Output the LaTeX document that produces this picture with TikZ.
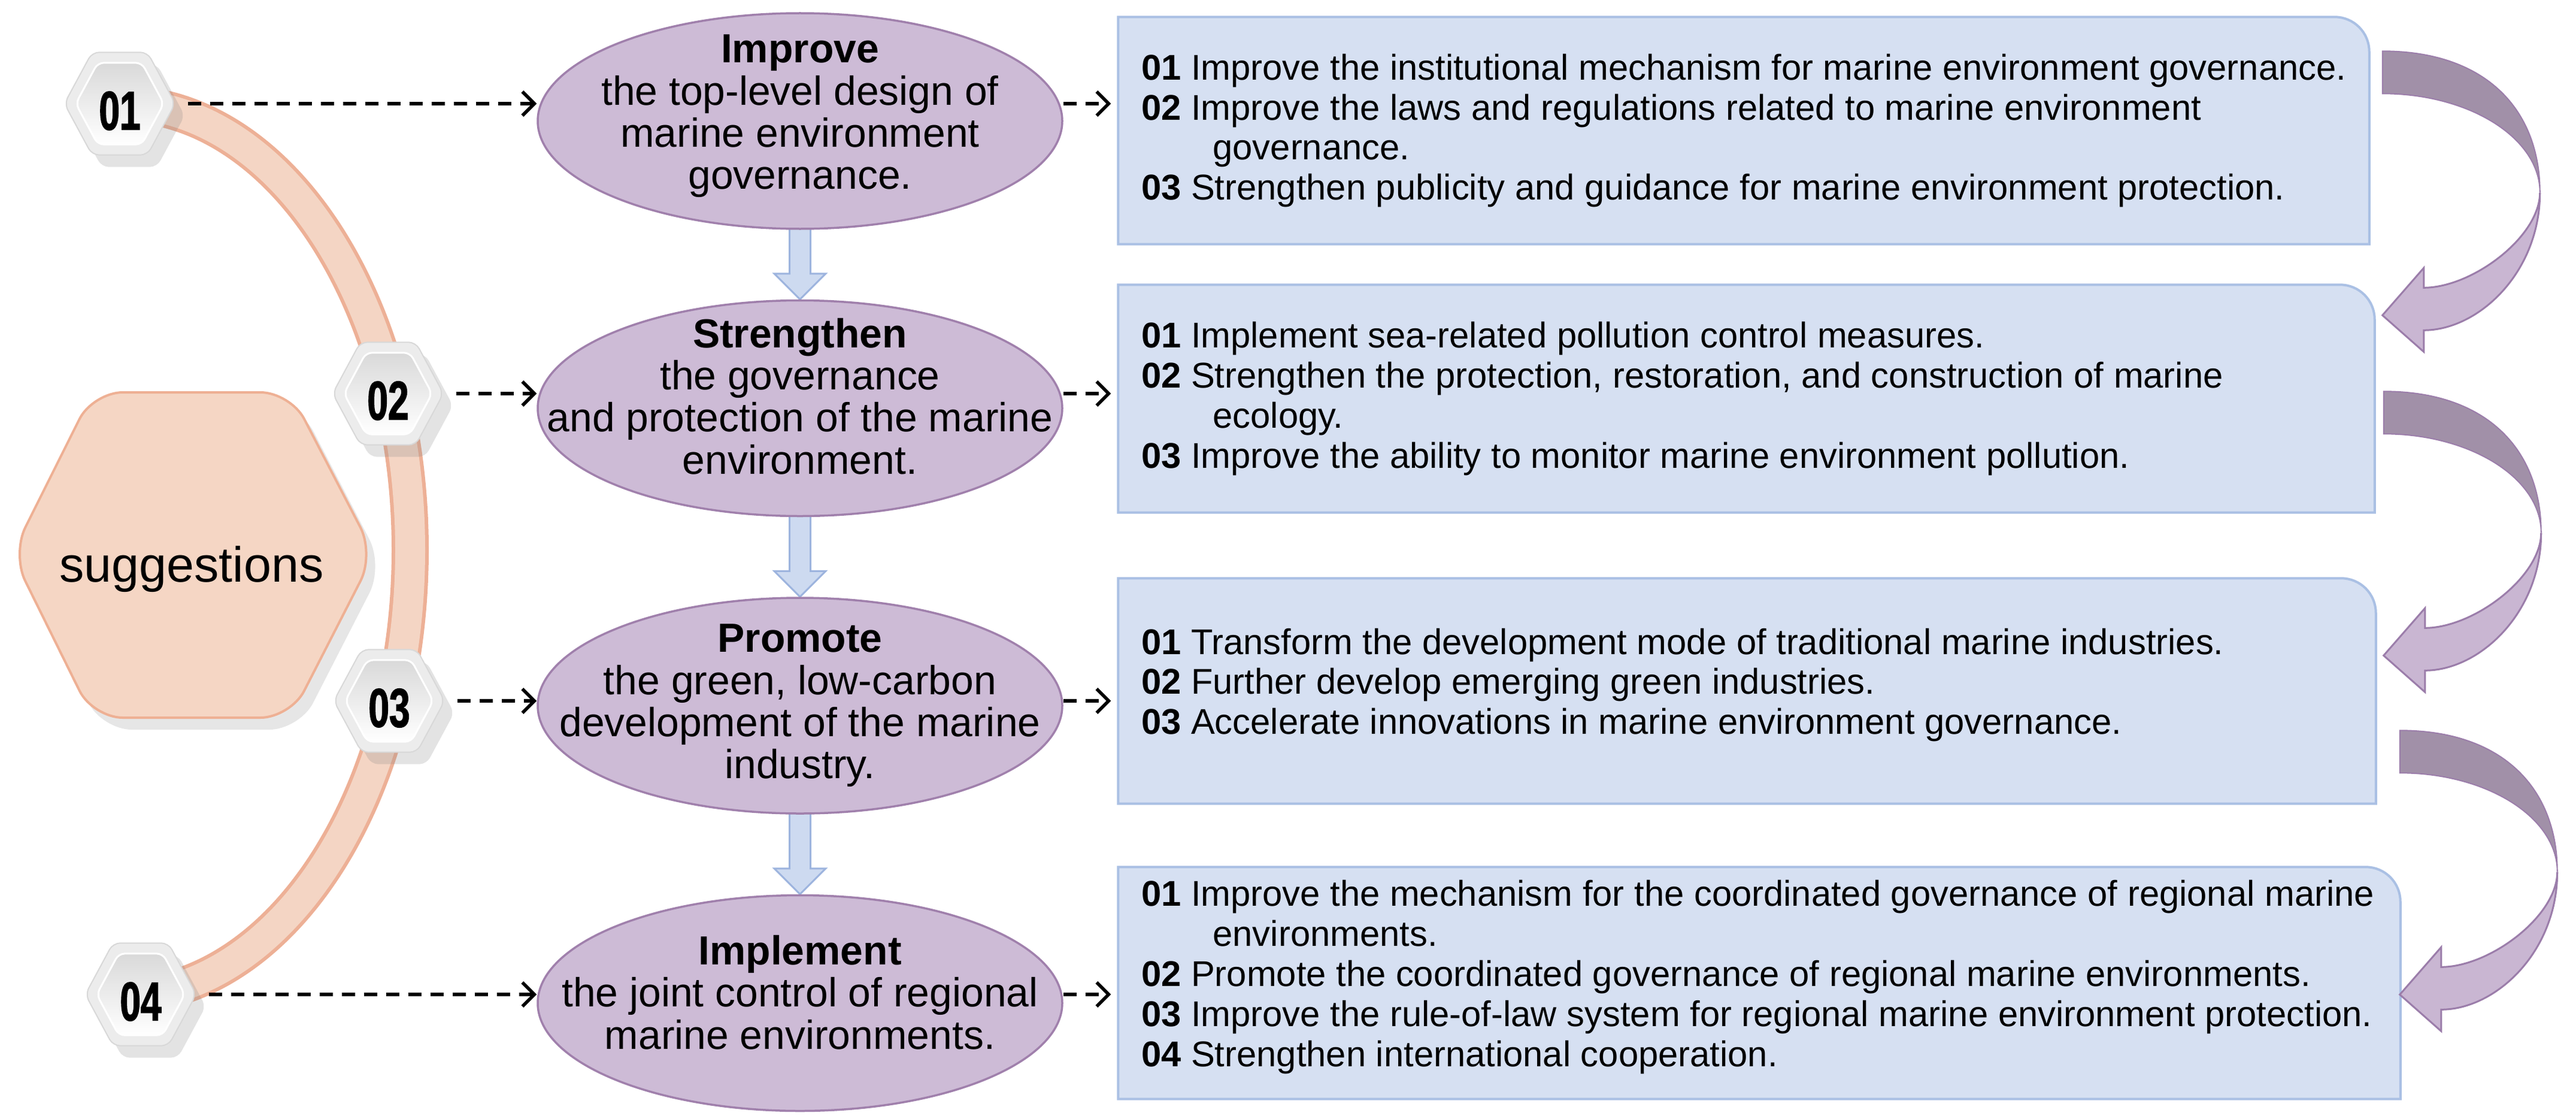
\documentclass[tikz,border=0pt]{standalone}
\usepackage{fontspec}
\setmainfont{Liberation Sans}
\newfontfamily\hexfont{Liberation Sans}[FakeStretch=0.68,FakeBold=1.5]
\usetikzlibrary{arrows.meta,positioning,shapes.geometric,calc,backgrounds,shadows}

\definecolor{ellfill}{RGB}{205,187,214}
\definecolor{elldraw}{RGB}{160,128,172}
\definecolor{boxfill}{RGB}{214,224,242}
\definecolor{boxdraw}{RGB}{170,192,228}
\definecolor{arrfill}{RGB}{205,218,240}
\definecolor{arrdraw}{RGB}{157,180,222}
\definecolor{sugfill}{RGB}{245,214,196}
\definecolor{sugdraw}{RGB}{238,176,148}
\definecolor{bandedge}{RGB}{237,176,150}
\definecolor{bandfill}{RGB}{244,213,196}
\definecolor{turndark}{RGB}{161,144,168}
\definecolor{turnlight}{RGB}{201,182,210}
\definecolor{turndraw}{RGB}{155,125,170}
\definecolor{hexgray}{RGB}{236,236,236}
\definecolor{hexline}{RGB}{216,216,216}
\definecolor{hextop}{RGB}{217,217,217}

% box outline with one rounded corner
\newcommand{\itemframe}[1]{%
  \draw[itemline] (#1.south west) -- (#1.north west) -- ([xshift=-0.58cm]#1.north east)
    arc[start angle=90,end angle=0,radius=0.58cm] -- (#1.south east) -- cycle;}

% wide arrow between two goals
\newcommand{\blockstep}[2]{%
  \draw[blockarrow] ($(#1.south)+(-0.175,0.3)$) -- ($(#2.north)+(-0.175,0.43)$)
    -- ($(#2.north)+(-0.43,0.43)$) -- (#2.north) -- ($(#2.north)+(0.43,0.43)$)
    -- ($(#2.north)+(0.175,0.43)$) -- ($(#1.south)+(0.175,0.3)$) -- cycle;}

% ribbon arrow turning back to the next box
\newcommand{\turnarrow}[1]{%
  \begin{scope}[shift={#1}]
    \filldraw[turnback] (0,0) .. controls (1.75,0) and (2.63,-1.0) .. (2.63,-2.36)
      .. controls (2.63,-1.45) and (1.45,-0.71) .. (0,-0.71) -- cycle;
    \filldraw[turnfront] (2.63,-2.36) .. controls (2.63,-3.7) and (1.6,-4.66) .. (0.69,-4.66)
      -- (0.69,-5.02) -- (0,-4.41) -- (0.69,-3.62) -- (0.69,-3.95)
      .. controls (1.5,-3.95) and (2.63,-3.1) .. (2.63,-2.36) -- cycle;
  \end{scope}}

\begin{document}
\begin{tikzpicture}[
    goal/.style={ellipse,draw=elldraw,line width=0.035cm,fill=ellfill,minimum width=8.76cm,minimum height=3.6cm,inner sep=0},
    goaltext/.style={align=center,inner sep=0,font=\fontsize{19.3}{20}\selectfont},
    itembox/.style={inner sep=0},
    itemline/.style={draw=boxdraw,line width=0.04cm,fill=boxfill},
    itemtext/.style={align=left,inner sep=0,font=\fontsize{17}{19}\selectfont},
    blockarrow/.style={draw=arrdraw,line width=0.03cm,fill=arrfill},
    dasharrow/.style={dash pattern=on 0.22cm off 0.15cm,line width=0.055cm,-{Straight Barb[length=0.2cm,width=0.4cm]}},
    hexouter/.style={regular polygon,regular polygon sides=6,minimum size=1.85cm,inner sep=0,yscale=1.07,rounded corners=0.12cm,fill=hexgray,draw=hexline,line width=0.02cm,drop shadow={opacity=0.22,shadow xshift=0.16cm,shadow yshift=-0.2cm}},
    hexinner/.style={regular polygon,regular polygon sides=6,minimum size=1.47cm,inner sep=0,yscale=1.07,rounded corners=0.1cm,top color=hextop,bottom color=white,draw=white,line width=0.03cm},
    hexnum/.style={font=\hexfont\bfseries\fontsize{26}{26}\selectfont,inner sep=0},
    sugshape/.style={fill=sugfill,draw=sugdraw,line width=0.04cm,rounded corners=0.5cm,drop shadow={opacity=0.2,shadow xshift=0.15cm,shadow yshift=-0.2cm}},
    sugtext/.style={font=\fontsize{23.5}{24}\selectfont,inner sep=0},
    band/.style={draw=bandedge,double=bandfill,double distance=0.5cm,line width=0.06cm},
    turnback/.style={fill=turndark,draw=turndraw,line width=0.02cm},
    turnfront/.style={fill=turnlight,draw=turndraw,line width=0.03cm}
  ]
  \useasboundingbox (0,0) rectangle (43.02,-18.62);

  % suggestions hexagon
  \draw[sugshape] (1.55,-6.55) -- (4.85,-6.55) -- (6.25,-9.25) -- (4.85,-11.98) -- (1.55,-11.98) -- (0.2,-9.25) -- cycle;
  \node (sug) [sugtext] at (3.2,-9.5) {suggestions};

  % band through the numbers
  \draw[band] (2.0,-1.73) arc[start angle=90,end angle=-90,x radius=4.85cm,y radius=7.45cm];

  % numbered hexagons
  \node (h1) [hexouter] at (2.00,-1.73) {};
  \node (h2) [hexouter] at (6.48,-6.57) {};
  \node (h3) [hexouter] at (6.50,-11.70) {};
  \node (h4) [hexouter] at (2.35,-16.60) {};
  \node (h1in) [hexinner] at (h1) {};
  \node (h2in) [hexinner] at (h2) {};
  \node (h3in) [hexinner] at (h3) {};
  \node (h4in) [hexinner] at (h4) {};
  \node (h1n) [hexnum] at ([yshift=-0.12cm]h1) {01};
  \node (h2n) [hexnum] at ([yshift=-0.12cm]h2) {02};
  \node (h3n) [hexnum] at ([yshift=-0.12cm]h3) {03};
  \node (h4n) [hexnum] at ([yshift=-0.12cm]h4) {04};

  % goals
  \node (e1) [goal] at (13.36,-2.02) {};
  \node (e2) [goal,below=1.16cm of e1] {};
  \node (e3) [goal,below=1.33cm of e2] {};
  \node (e4) [goal,below=1.33cm of e3] {};
  \node (e1t) [goaltext] at ([yshift=0.08cm]e1) {\textbf{Improve}\\the top-level design of\\marine environment\\governance.};
  \node (e2t) [goaltext] at ([yshift=0.2cm]e2) {\textbf{Strengthen}\\the governance\\and protection of the marine\\environment.};
  \node (e3t) [goaltext] at (e3) {\textbf{Promote}\\the green, low-carbon\\development of the marine\\industry.};
  \node (e4t) [goaltext] at ([yshift=0.18cm]e4) {\textbf{Implement}\\the joint control of regional\\marine environments.};
  \begin{scope}[on background layer]
    \blockstep{e1}{e2}
    \blockstep{e2}{e3}
    \blockstep{e3}{e4}
  \end{scope}

  % measure boxes
  \node (b1) [itembox,minimum width=20.88cm,minimum height=3.78cm] at (29.12,-2.18) {};
  \node (b2) [itembox,minimum width=20.97cm,minimum height=3.79cm] at (29.165,-6.655) {};
  \node (b3) [itembox,minimum width=20.99cm,minimum height=3.75cm] at (29.175,-11.535) {};
  \node (b4) [itembox,minimum width=21.40cm,minimum height=3.86cm] at (29.38,-16.41) {};
  \itemframe{b1}
  \itemframe{b2}
  \itemframe{b3}
  \itemframe{b4}
  \node (t1) [itemtext,right=0.38cm of b1.west] {\textbf{01} Improve the institutional mechanism for marine environment governance.\\
    \textbf{02} Improve the laws and regulations related to marine environment\\
    \hspace*{2em}governance.\\
    \textbf{03} Strengthen publicity and guidance for marine environment protection.};
  \node (t2) [itemtext,right=0.38cm of b2.west] {\textbf{01} Implement sea-related pollution control measures.\\
    \textbf{02} Strengthen the protection, restoration, and construction of marine\\
    \hspace*{2em}ecology.\\
    \textbf{03} Improve the ability to monitor marine environment pollution.};
  \node (t3) [itemtext,right=0.38cm of b3.west,yshift=0.1cm] {\textbf{01} Transform the development mode of traditional marine industries.\\
    \textbf{02} Further develop emerging green industries.\\
    \textbf{03} Accelerate innovations in marine environment governance.};
  \node (t4) [itemtext,right=0.38cm of b4.west,yshift=0.1cm] {\textbf{01} Improve the mechanism for the coordinated governance of regional marine\\
    \hspace*{2em}environments.\\
    \textbf{02} Promote the coordinated governance of regional marine environments.\\
    \textbf{03} Improve the rule-of-law system for regional marine environment protection.\\
    \textbf{04} Strengthen international cooperation.};

  % dashed links
  \draw[dasharrow,shorten <=0.2cm] (h1.east) -- (h1.east -| e1.west);
  \draw[dasharrow,shorten <=0.2cm] (h2.east) -- (h2.east -| e2.west);
  \draw[dasharrow,shorten <=0.2cm] (h3.east) -- (h3.east -| e3.west);
  \draw[dasharrow,shorten <=0.2cm] (h4.east) -- (h4.east -| e4.west);
  \draw[dasharrow,shorten >=0.12cm] (h1 -| e1.east) -- (h1 -| b1.west);
  \draw[dasharrow,shorten >=0.12cm] (h2 -| e2.east) -- (h2 -| b2.west);
  \draw[dasharrow,shorten >=0.12cm] (h3 -| e3.east) -- (h3 -| b3.west);
  \draw[dasharrow,shorten >=0.12cm] (h4 -| e4.east) -- (h4 -| b4.west);

  % turning arrows
  \turnarrow{([xshift=0.22cm,yshift=-0.57cm]b1.north east)}
  \turnarrow{([xshift=0.15cm,yshift=-1.78cm]b2.north east)}
  \turnarrow{([xshift=0.40cm,yshift=-2.54cm]b3.north east)}
\end{tikzpicture}
\end{document}
